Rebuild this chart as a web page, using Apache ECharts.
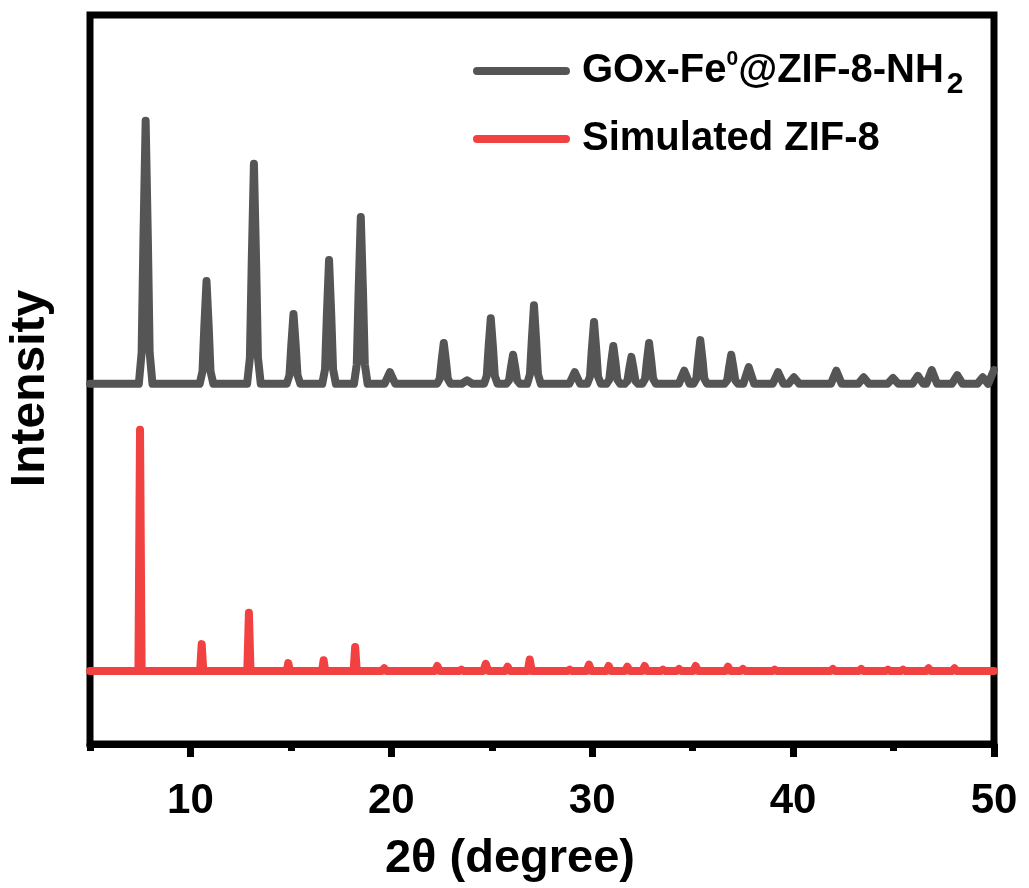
<!DOCTYPE html>
<html>
<head>
<meta charset="utf-8">
<script src="https://cdn.jsdelivr.net/npm/echarts@6/dist/echarts.min.js"></script>
<style>
  html, body { margin: 0; padding: 0; background: #fff; }
  #chart { width: 1029px; height: 888px; }
</style>
</head>
<body>
<div id="chart"></div>
<script>
// XRD patterns as [2θ, intensity] vertices (intensity in offset arbitrary units)
const sampleName = 'GOx-Fe⁰@ZIF-8-NH₂';
const simulatedName = 'Simulated ZIF-8';

const samplePattern = [
  [5, 49.4],
  [7.43, 49.4], [7.57, 53.7], [7.66, 69.3], [7.77, 85.5], [7.88, 69.3], [7.97, 53.7], [8.11, 49.4],
  [10.46, 49.4], [10.6, 51.1], [10.69, 57.2], [10.8, 63.5], [10.91, 57.2], [11.0, 51.1], [11.14, 49.4],
  [12.82, 49.4], [12.96, 53.0], [13.05, 66.0], [13.16, 79.6], [13.27, 66.0], [13.36, 53.0], [13.5, 49.4],
  [14.79, 49.4], [14.93, 50.6], [15.02, 54.7], [15.13, 59.0], [15.24, 54.7], [15.33, 50.6], [15.47, 49.4],
  [16.56, 49.4], [16.7, 51.4], [16.79, 58.8], [16.9, 66.4], [17.01, 58.8], [17.1, 51.4], [17.24, 49.4],
  [18.14, 49.4], [18.28, 52.1], [18.37, 62.0], [18.48, 72.3], [18.59, 62.0], [18.68, 52.1], [18.82, 49.4],
  [19.66, 49.4], [19.93, 51.0], [20.2, 49.4],
  [22.27, 49.4], [22.41, 50.1], [22.5, 52.5], [22.61, 55.0], [22.72, 52.5], [22.81, 50.1], [22.95, 49.4],
  [23.5, 49.4], [23.77, 49.9], [24.04, 49.4],
  [24.61, 49.4], [24.75, 50.5], [24.84, 54.4], [24.95, 58.4], [25.06, 54.4], [25.15, 50.5], [25.29, 49.4],
  [25.72, 49.4], [25.86, 49.9], [25.95, 51.6], [26.06, 53.4], [26.17, 51.6], [26.26, 49.9], [26.4, 49.4],
  [26.76, 49.4], [26.9, 50.7], [26.99, 55.3], [27.1, 60.2], [27.21, 55.3], [27.3, 50.7], [27.44, 49.4],
  [28.86, 49.4], [29.13, 51.0], [29.4, 49.4],
  [29.75, 49.4], [29.89, 50.4], [29.98, 54.1], [30.09, 57.9], [30.2, 54.1], [30.29, 50.4], [30.43, 49.4],
  [30.71, 49.4], [30.85, 50.0], [30.94, 52.3], [31.05, 54.6], [31.16, 52.3], [31.25, 50.0], [31.39, 49.4],
  [31.61, 49.4], [31.75, 49.8], [31.84, 51.4], [31.95, 53.1], [32.06, 51.4], [32.15, 49.8], [32.29, 49.4],
  [32.49, 49.4], [32.63, 50.1], [32.72, 52.5], [32.83, 55.0], [32.94, 52.5], [33.03, 50.1], [33.17, 49.4],
  [34.31, 49.4], [34.58, 51.2], [34.85, 49.4],
  [35.04, 49.4], [35.18, 50.1], [35.27, 52.7], [35.38, 55.4], [35.49, 52.7], [35.58, 50.1], [35.72, 49.4],
  [36.58, 49.4], [36.72, 49.9], [36.81, 51.6], [36.92, 53.4], [37.03, 51.6], [37.12, 49.9], [37.26, 49.4],
  [37.52, 49.4], [37.79, 51.7], [38.06, 49.4],
  [38.98, 49.4], [39.25, 51.0], [39.52, 49.4],
  [39.77, 49.4], [40.04, 50.3], [40.31, 49.4],
  [41.88, 49.4], [42.15, 51.2], [42.42, 49.4],
  [43.24, 49.4], [43.51, 50.3], [43.78, 49.4],
  [44.7, 49.4], [44.97, 50.2], [45.24, 49.4],
  [45.94, 49.4], [46.21, 50.5], [46.48, 49.4],
  [46.63, 49.4], [46.9, 51.3], [47.17, 49.4],
  [47.9, 49.4], [48.17, 50.6], [48.44, 49.4],
  [49.17, 49.4], [49.44, 50.3], [49.71, 49.4],
  [49.8, 49.4], [50, 51.3]
];

const simulatedPattern = [
  [5, 10.0],
  [7.41, 10.0], [7.49, 43.1], [7.57, 10.0],
  [10.48, 10.0], [10.56, 13.7], [10.64, 10.0],
  [12.83, 10.0], [12.91, 18.0], [12.99, 10.0],
  [14.79, 10.0], [14.87, 11.1], [14.95, 10.0],
  [16.55, 10.0], [16.63, 11.5], [16.71, 10.0],
  [18.12, 10.0], [18.2, 13.3], [18.28, 10.0],
  [19.52, 10.0], [19.64, 10.4], [19.76, 10.0],
  [22.17, 10.0], [22.29, 10.7], [22.41, 10.0],
  [23.37, 10.0], [23.49, 10.2], [23.61, 10.0],
  [24.58, 10.0], [24.7, 11.0], [24.82, 10.0],
  [25.67, 10.0], [25.79, 10.6], [25.91, 10.0],
  [26.79, 10.0], [26.89, 11.6], [26.99, 10.0],
  [28.76, 10.0], [28.88, 10.2], [29.0, 10.0],
  [29.72, 10.0], [29.84, 10.9], [29.96, 10.0],
  [30.7, 10.0], [30.82, 10.7], [30.94, 10.0],
  [31.63, 10.0], [31.75, 10.6], [31.87, 10.0],
  [32.49, 10.0], [32.61, 10.7], [32.73, 10.0],
  [33.4, 10.0], [33.52, 10.2], [33.64, 10.0],
  [34.2, 10.0], [34.32, 10.3], [34.44, 10.0],
  [35.03, 10.0], [35.15, 10.7], [35.27, 10.0],
  [36.64, 10.0], [36.76, 10.6], [36.88, 10.0],
  [37.38, 10.0], [37.5, 10.3], [37.62, 10.0],
  [38.96, 10.0], [39.08, 10.2], [39.2, 10.0],
  [41.86, 10.0], [41.98, 10.3], [42.1, 10.0],
  [43.27, 10.0], [43.39, 10.3], [43.51, 10.0],
  [44.6, 10.0], [44.72, 10.2], [44.84, 10.0],
  [45.35, 10.0], [45.47, 10.2], [45.59, 10.0],
  [46.62, 10.0], [46.74, 10.4], [46.86, 10.0],
  [47.91, 10.0], [48.03, 10.4], [48.15, 10.0],
  [50, 10.0]
];

const majorTicks = [10, 20, 30, 40, 50];
const minorTicks = [5, 15, 25, 35, 45];
const xTitle = '2θ (degree)';
const yTitle = 'Intensity';

const FONT = '"Liberation Sans", Arial, sans-serif';
const chart = echarts.init(document.getElementById('chart'), null, { renderer: 'canvas' });

// rich styles for the superscript "0" and subscript "2" in the sample name
const legendRich = {
  m:   { fontFamily: FONT, fontWeight: 'bold', fontSize: 40, color: '#000', lineHeight: 44 },
  sup: { fontFamily: FONT, fontWeight: 'bold', fontSize: 21, color: '#000', lineHeight: 30, verticalAlign: 'top' },
  sub: { fontFamily: FONT, fontWeight: 'bold', fontSize: 30, color: '#000', lineHeight: 44, height: 16, verticalAlign: 'bottom', padding: [0, 0, 0, 3] }
};

chart.setOption({
  animation: false,
  backgroundColor: '#fff',
  grid: {
    left: 90, right: 35, top: 15, bottom: 144,
    outerBoundsMode: 'none',
    show: true, borderColor: '#000', borderWidth: 7, backgroundColor: 'transparent'
  },
  legend: {
    orient: 'vertical',
    left: 473, top: 49, padding: 0,
    itemWidth: 97, itemHeight: 8, itemGap: 17,
    icon: 'path://M4,0 L93,0 A4,4 0 0 1 93,8 L4,8 A4,4 0 0 1 4,0 Z',
    data: [sampleName, simulatedName],
    formatter: function (name) {
      if (name === sampleName) {
        return '{m|GOx-Fe}{sup|0}{m|@ZIF-8-NH}{sub|2}';
      }
      return '{m|' + name + '}';
    },
    textStyle: { fontFamily: FONT, fontWeight: 'bold', fontSize: 40, color: '#000', lineHeight: 44, padding: [0, 0, 0, 7], rich: legendRich }
  },
  xAxis: [
    {
      type: 'value', min: 5, max: 50, position: 'bottom',
      axisLine: { show: true, lineStyle: { color: '#000', width: 7 } },
      axisTick: { show: true, customValues: majorTicks, length: 13, lineStyle: { color: '#000', width: 7 } },
      axisLabel: { customValues: majorTicks, margin: 36, fontFamily: FONT, fontWeight: 'bold', fontSize: 42, color: '#000' },
      splitLine: { show: false },
      name: xTitle, nameLocation: 'middle', nameGap: 92,
      nameTextStyle: { fontFamily: FONT, fontWeight: 'bold', fontSize: 47, color: '#000', padding: [0, 64, 0, 0] }
    },
    {
      type: 'value', min: 5, max: 50, position: 'bottom',
      axisLine: { show: false },
      axisTick: { show: true, customValues: minorTicks, length: 7, lineStyle: { color: '#000', width: 7 } },
      axisLabel: { show: false },
      splitLine: { show: false }
    }
  ],
  yAxis: {
    type: 'value', min: 0, max: 100,
    axisLine: { show: false }, axisTick: { show: false }, axisLabel: { show: false }, splitLine: { show: false },
    name: yTitle, nameLocation: 'middle', nameGap: 35,
    nameTextStyle: { fontFamily: FONT, fontWeight: 'bold', fontSize: 48, color: '#000', padding: [0, 18, 0, 0] }
  },
  series: [
    {
      name: sampleName, type: 'line', xAxisIndex: 0, data: samplePattern,
      symbol: 'none', showSymbol: false, color: '#555555',
      lineStyle: { width: 8, color: '#555555', cap: 'round', join: 'round' }
    },
    {
      name: simulatedName, type: 'line', xAxisIndex: 0, data: simulatedPattern,
      symbol: 'none', showSymbol: false, color: '#f24141',
      lineStyle: { width: 8, color: '#f24141', cap: 'round', join: 'round' }
    }
  ]
});
</script>
</body>
</html>
